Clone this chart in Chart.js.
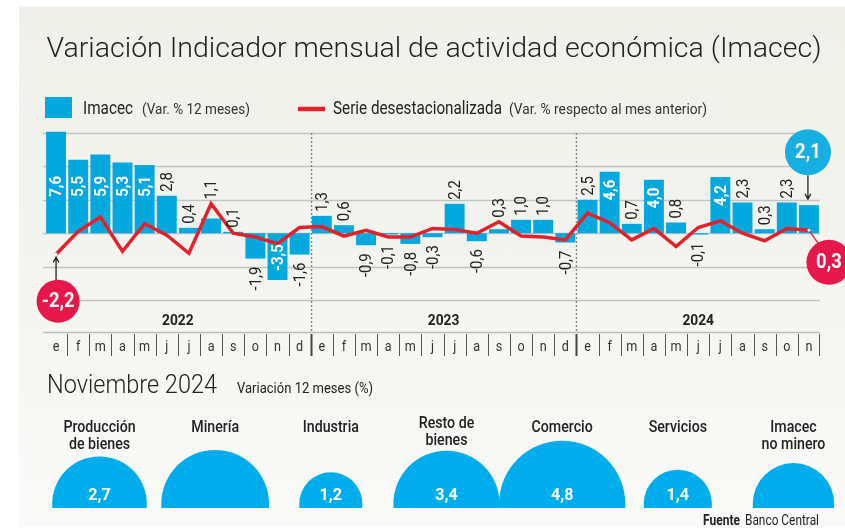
<!DOCTYPE html>
<html>
<head>
<meta charset="utf-8">
<script src="https://cdn.jsdelivr.net/npm/chart.js@4.4.1/dist/chart.umd.min.js"></script>
<style>
  html, body { margin: 0; padding: 0; background: #fff; }
  #wrap { position: relative; width: 845px; height: 530px; overflow: hidden; }
  #bg { position: absolute; left: 19px; top: 6px; width: 826px; height: 521px;
        background: linear-gradient(#f0efe9, #f5f5f1 60%, #fafaf9); }
  canvas { position: absolute; left: 0; }
  #main { top: 0; }
  #sectors { top: 360px; }
</style>
</head>
<body>
<div id="wrap">
  <div id="bg"></div>
  <canvas id="main" width="845" height="530"></canvas>
  <canvas id="sectors" width="845" height="170"></canvas>
</div>
<script>
// months, Jan 2022 .. Nov 2024
const monthLetters = ['e','f','m','a','m','j','j','a','s','o','n','d',
                      'e','f','m','a','m','j','j','a','s','o','n','d',
                      'e','f','m','a','m','j','j','a','s','o','n'];
const years = ['2022', '2023', '2024'];
const yearMonths = [12, 12, 11];

// Imacec, var. % 12 meses (bars)
const imacec = [7.6, 5.5, 5.9, 5.3, 5.1, 2.8, 0.4, 1.1, 0.1, -1.9, -3.5, -1.6,
                1.3, 0.6, -0.9, -0.1, -0.8, -0.3, 2.2, -0.6, 0.3, 1.0, 1.0, -0.7,
                2.5, 4.6, 0.7, 4.0, 0.8, -0.1, 4.2, 2.3, 0.3, 2.3, 2.1];
// serie desestacionalizada, var. % mes anterior (line)
const desest = [-2.2, 0.2, 1.7, -1.9, 1.0, -0.2, -2.1, 3.1, 0.0, -0.4, -1.1, 0.6,
                0.7, -0.3, 0.3, -0.4, -0.4, 0.5, 0.4, 0.0, 1.2, -0.3, -0.4, -0.7,
                2.1, 1.1, -0.7, 0.5, -1.4, 0.6, 1.3, 0.0, -0.8, 0.5, 0.3];
const gridTicks = [-5, -2.5, 0, 2.5, 5, 7.5];

// Noviembre 2024 by sector
const sectorNames = [['Producción', 'de bienes'], ['Minería'], ['Industria'], ['Resto de', 'bienes'],
                     ['Comercio'], ['Servicios'], ['Imacec', 'no minero']];
const sectorValues = [2.7, 3.5, 1.2, 3.4, 4.8, 1.4, 2.0];
const sectorShown = [true, false, true, true, true, true, false];

const BLUE = '#03a9de';
const BUBBLE = '#00adec';
const RED = '#e4212b';
const CRIMSON = '#e6174b';
const FONT = 'Roboto, "Noto Sans", sans-serif';

function fmt(v) {
    return v.toFixed(1).replace('.', ',');
}

function text(ctx, s, x, y, font, color, align, sx, baseline) {
    ctx.save();
    ctx.font = font;
    ctx.fillStyle = color;
    ctx.textAlign = align || 'left';
    ctx.textBaseline = baseline || 'alphabetic';
    ctx.translate(x, y);
    ctx.scale(sx || 1, 1);
    ctx.fillText(s, 0, 0);
    ctx.restore();
}

function fitText(ctx, s, x, y, font, color, width) {
    ctx.save();
    ctx.font = font;
    const w = ctx.measureText(s).width;
    ctx.restore();
    text(ctx, s, x, y, font, color, 'left', width / w);
}

// rotated bar label, reads bottom to top
function vText(ctx, s, x, y, font, color, align) {
    ctx.save();
    ctx.font = font;
    ctx.fillStyle = color;
    ctx.textAlign = align;
    ctx.textBaseline = 'middle';
    ctx.translate(x + 1, y);
    ctx.rotate(-Math.PI / 2);
    ctx.scale(0.88, 1);
    ctx.fillText(s, 0, 0);
    ctx.restore();
}

function arrow(ctx, x1, y1, x2, y2) {
    const a = Math.atan2(y2 - y1, x2 - x1);
    ctx.save();
    ctx.strokeStyle = '#222';
    ctx.lineWidth = 1.3;
    ctx.beginPath();
    ctx.moveTo(x1, y1);
    ctx.lineTo(x2, y2);
    ctx.moveTo(x2 - 6 * Math.cos(a - 0.5), y2 - 6 * Math.sin(a - 0.5));
    ctx.lineTo(x2, y2);
    ctx.lineTo(x2 - 6 * Math.cos(a + 0.5), y2 - 6 * Math.sin(a + 0.5));
    ctx.stroke();
    ctx.restore();
}

function bubbleNote(ctx, x, y, r, color, s) {
    ctx.save();
    ctx.fillStyle = color;
    ctx.beginPath();
    ctx.arc(x, y, r, 0, Math.PI * 2);
    ctx.fill();
    ctx.restore();
    text(ctx, s, x, y + 1, 'bold 20px ' + FONT, '#fff', 'center', 0.92, 'middle');
}

const decor = {
    id: 'decor',
    beforeDatasetsDraw(chart) {
        const ctx = chart.ctx;
        const area = chart.chartArea;
        const x = chart.scales.x;
        const y = chart.scales.y;
        ctx.save();
        ctx.strokeStyle = '#c3c3c1';
        ctx.lineWidth = 1.5;
        gridTicks.forEach(v => {
            const py = Math.round(y.getPixelForValue(v)) + 0.5;
            ctx.beginPath();
            ctx.moveTo(area.left - 2, py);
            ctx.lineTo(area.right, py);
            ctx.stroke();
        });
        // dotted year separators
        ctx.strokeStyle = '#8a8a8a';
        ctx.setLineDash([2, 2]);
        let idx = 0;
        for (let k = 0; k < years.length - 1; k++) {
            idx += yearMonths[k];
            const px = Math.round((x.getPixelForValue(idx - 1) + x.getPixelForValue(idx)) / 2) + 0.5;
            ctx.beginPath();
            ctx.moveTo(px, area.top);
            ctx.lineTo(px, 332);
            ctx.stroke();
        }
        ctx.restore();
    },
    afterDatasetsDraw(chart) {
        const ctx = chart.ctx;
        const area = chart.chartArea;
        const x = chart.scales.x;
        const bars = chart.getDatasetMeta(0).data;
        const pts = chart.getDatasetMeta(1).data;

        // bar value labels
        for (let i = 0; i < imacec.length - 1; i++) {
            const v = imacec[i];
            const b = bars[i];
            const top = Math.min(b.y, b.base);
            const bottom = Math.max(b.y, b.base);
            const ly = pts[i].y;
            const s = fmt(v);
            if (Math.abs(v) >= 3.5) {
                if (v > 0) vText(ctx, s, b.x, Math.max(top + 8, 176), 'bold 17px ' + FONT, '#fff', 'right');
                else vText(ctx, s, b.x, bottom - 9, 'bold 17px ' + FONT, '#fff', 'left');
            } else if (v >= 0) {
                vText(ctx, s, b.x, Math.min(top, ly) - 4, '17px ' + FONT, '#222', 'left');
            } else {
                vText(ctx, s, b.x, Math.max(bottom, ly) + 8, '17px ' + FONT, '#222', 'right');
            }
        }

        // callouts
        const p0 = pts[0];
        arrow(ctx, p0.x, p0.y + 26, p0.x, p0.y + 3);
        bubbleNote(ctx, p0.x + 2, p0.y + 47, 21.5, CRIMSON, fmt(desest[0]));
        const bl = bars[bars.length - 1];
        arrow(ctx, bl.x - 1, bl.y - 30, bl.x - 1, bl.y - 6);
        bubbleNote(ctx, bl.x - 1, bl.y - 53, 23, '#17afe2', fmt(imacec[imacec.length - 1]));
        const pl = pts[pts.length - 1];
        ctx.save();
        ctx.strokeStyle = CRIMSON;
        ctx.lineWidth = 1.3;
        ctx.beginPath();
        ctx.moveTo(pl.x, pl.y);
        ctx.lineTo(pl.x + 10, pl.y + 14);
        ctx.stroke();
        ctx.restore();
        bubbleNote(ctx, pl.x + 20, pl.y + 32, 22.5, CRIMSON, fmt(desest[desest.length - 1]));
        [p0, pl].forEach(p => {
            ctx.save();
            ctx.fillStyle = '#fff';
            ctx.beginPath();
            ctx.arc(p.x, p.y, 1.4, 0, Math.PI * 2);
            ctx.fill();
            ctx.restore();
        });

        // month row
        ctx.save();
        ctx.strokeStyle = '#bdbdbb';
        ctx.lineWidth = 1.5;
        ctx.beginPath();
        ctx.moveTo(area.left - 2, 332.5);
        ctx.lineTo(area.right, 332.5);
        ctx.stroke();
        let yearEnd = [];
        let acc = 0;
        yearMonths.forEach(n => { acc += n; yearEnd.push(acc); });
        for (let i = 1; i <= monthLetters.length; i++) {
            const px = i < monthLetters.length
                ? (x.getPixelForValue(i - 1) + x.getPixelForValue(i)) / 2
                : area.right - 1;
            const strong = yearEnd.indexOf(i) >= 0 && i < monthLetters.length;
            ctx.strokeStyle = strong ? '#444' : '#555';
            ctx.lineWidth = strong ? 2 : 1;
            ctx.beginPath();
            ctx.moveTo(Math.round(px) + 0.5, 334);
            ctx.lineTo(Math.round(px) + 0.5, 356);
            ctx.stroke();
        }
        ctx.restore();
        monthLetters.forEach((m, i) => {
            text(ctx, m, x.getPixelForValue(i), 351, '14px ' + FONT, '#333', 'center', 0.9);
        });
        let start = 0;
        years.forEach((yr, k) => {
            const end = start + yearMonths[k] - 1;
            const cx = (x.getPixelForValue(start) + x.getPixelForValue(end)) / 2;
            text(ctx, yr, cx, 325, 'bold 14.5px ' + FONT, '#222', 'center', 0.95);
            start = end + 1;
        });

        // title & legend
        fitText(ctx, 'Variación Indicador mensual de actividad económica (Imacec)', 46.5, 57, '300 28px ' + FONT, '#222', 775);
        ctx.fillStyle = BLUE;
        ctx.fillRect(45, 97, 27, 21);
        fitText(ctx, 'Imacec', 83, 113.5, '18.5px ' + FONT, '#222', 50);
        fitText(ctx, '(Var. % 12 meses)', 142, 113.5, '14.5px ' + FONT, '#333', 108);
        ctx.save();
        ctx.strokeStyle = RED;
        ctx.lineWidth = 4.5;
        ctx.beginPath();
        ctx.moveTo(298, 109);
        ctx.lineTo(325, 109);
        ctx.stroke();
        ctx.restore();
        fitText(ctx, 'Serie desestacionalizada', 333, 113.5, '18.5px ' + FONT, '#222', 169);
        fitText(ctx, '(Var. % respecto al mes anterior)', 509, 113.5, '14.5px ' + FONT, '#333', 198);

        // lower panel headings
        fitText(ctx, 'Noviembre 2024', 47, 393, '300 25px ' + FONT, '#222', 170);
        fitText(ctx, 'Variación 12 meses (%)', 237, 393, '14.5px ' + FONT, '#222', 136);
        fitText(ctx, 'Fuente', 703, 525, 'bold 14px ' + FONT, '#222', 37);
        fitText(ctx, 'Banco Central', 745, 525, '14px ' + FONT, '#222', 74);
    }
};

new Chart(document.getElementById('main'), {
    data: {
        labels: monthLetters,
        datasets: [{
            type: 'bar',
            data: imacec,
            yAxisID: 'y',
            backgroundColor: BLUE,
            barPercentage: 0.9,
            categoryPercentage: 1,
            clip: false,
            order: 2
        }, {
            type: 'line',
            data: desest,
            yAxisID: 'y1',
            borderColor: RED,
            borderWidth: 3.5,
            borderJoinStyle: 'miter',
            pointRadius: 0,
            tension: 0,
            order: 1
        }]
    },
    options: {
        responsive: false,
        animation: false,
        events: [],
        layout: { autoPadding: false, padding: { left: 45, right: 25, top: 133, bottom: 230 } },
        plugins: { legend: { display: false }, tooltip: { enabled: false } },
        scales: {
            x: { display: false },
            y: { display: false, min: -5, max: 7.5 },
            y1: { display: false, min: -7, max: 10.5 }
        }
    },
    plugins: [decor]
});

const sectorText = {
    id: 'sectorText',
    afterDatasetsDraw(chart) {
        const ctx = chart.ctx;
        const x = chart.scales.x;
        const y0 = chart.scales.y.getPixelForValue(0);
        const pts = chart.getDatasetMeta(0).data;
        sectorNames.forEach((lines, i) => {
            const cx = x.getPixelForValue(i);
            const top = y0 - pts[i].options.radius;
            // names sit on a common row, lifted only if they would touch the bubble
            const lastBase = 72 + (lines.length - 1) * 17;
            const lift = Math.max(0, lastBase - (top - 6));
            lines.forEach((ln, j) => {
                text(ctx, ln, cx, 72 + j * 17 - lift, '500 16.5px ' + FONT, '#222', 'center', 0.86);
            });
            if (sectorShown[i]) {
                text(ctx, fmt(sectorValues[i]), cx, 140, 'bold 17px ' + FONT, '#fff', 'center', 0.95);
            }
        });
    }
};

new Chart(document.getElementById('sectors'), {
    type: 'bubble',
    data: {
        datasets: [{
            data: sectorValues.map((v, i) => ({ x: i, y: 0, r: Math.sqrt(v) * 28.8 })),
            backgroundColor: BUBBLE,
            borderWidth: 0,
            clip: { left: false, top: false, right: false, bottom: 0 }
        }]
    },
    options: {
        responsive: false,
        animation: false,
        events: [],
        layout: { autoPadding: false, padding: { left: 99.5, right: 51.5, top: 60, bottom: 22 } },
        plugins: { legend: { display: false }, tooltip: { enabled: false } },
        scales: {
            x: { display: false, min: 0, max: 6 },
            y: { display: false, min: -0.05, max: 1 }
        }
    },
    plugins: [sectorText]
});
</script>
</body>
</html>
